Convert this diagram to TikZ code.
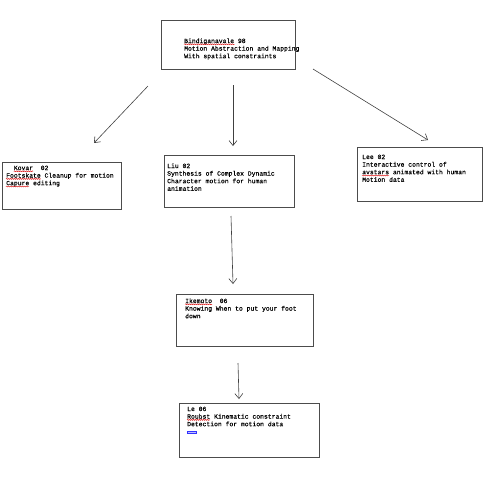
\documentclass[tikz,border=0pt]{standalone}
\usepackage{fontspec}
\newfontfamily\monofnt[FakeBold=0.35]{Liberation Mono}
\usetikzlibrary{arrows.meta,calc,decorations.pathmorphing}
\tikzset{
  box/.style={draw=black!70, line width=0.9pt, rectangle, inner sep=0pt, anchor=north west},
  txt/.style={anchor=base west, inner sep=0pt, align=left, font=\monofnt\fontsize{6.4pt}{7.6pt}\selectfont, text=black},
  arr/.style={draw=black!75, line width=0.6pt, -{Straight Barb[length=5pt,width=8pt]}},
  squig/.style={draw=red!85!black, line width=0.45pt, decorate, decoration={snake, amplitude=0.45pt, segment length=2pt}},
}
\begin{document}
\begin{tikzpicture}[x=1pt,y=-1pt]
\useasboundingbox (0,0) rectangle (503,480);
\def\cw{3.87}
% boxes
\node[box, minimum width=134pt, minimum height=49pt] (topb) at (161,20) {};
\node[box, minimum width=119pt, minimum height=47pt] (kovb) at (2,162) {};
\node[box, minimum width=130pt, minimum height=52pt] (liub) at (164,155) {};
\node[box, minimum width=125pt, minimum height=54pt] (leeb) at (357,147) {};
\node[box, minimum width=137pt, minimum height=52pt] (ikeb) at (176,294) {};
\node[box, minimum width=140pt, minimum height=54pt] (leb) at (179,403) {};
% texts (anchored at the baseline of their last line)
\node[txt] (topt) at (184,58.2) {Bindiganavale 98\\Motion Abstraction and Mapping\\With spatial constraints};
\node[txt] (kovt) at (6,185.2) {\ \ Kovar\ \ 02\\Footskate Cleanup for motion\\Capure editing};
\node[txt] (liut) at (167,190.8) {Liu 02\\Synthesis of Complex Dynamic\\Character motion for human\\animation};
\node[txt] (leet) at (362,181.8) {Lee 02\\Interactive control of\\avstars animated with human\\Motion data};
\node[txt] (iket) at (185,318.2) {Ikemoto\ \ 06\\Knowing When to put your foot\\down};
\node[txt] (let) at (187,426.2) {Le 06\\Roubst Kinematic constraint\\Detection for motion data};
% spell-check underlines
\draw[squig] ($(topt.base west)+(0,-13.9)$) -- ++(13*\cw,0);
\draw[squig] ($(kovt.base west)+(2*\cw,-13.9)$) -- ++(5*\cw,0);
\draw[squig] ($(kovt.base west)+(0,-6.3)$) -- ++(9*\cw,0);
\draw[squig] ($(kovt.base west)+(0,1.3)$) -- ++(6*\cw,0);
\draw[squig] ($(leet.base west)+(0,-6.3)$) -- ++(7*\cw,0);
\draw[squig] ($(iket.base west)+(0,-13.9)$) -- ++(7*\cw,0);
\draw[squig] ($(let.base west)+(0,-6.3)$) -- ++(6*\cw,0);
\draw[draw=blue!80, fill=blue!25, line width=0.5pt] ($(let.base west)+(0,5.2)$) rectangle ++(9,1.8);
% arrows
\coordinate (a1s) at (148,86);  \coordinate (a1e) at (94,143);
\coordinate (a2s) at (233,85);  \coordinate (a2e) at (233,146);
\coordinate (a3s) at (313,69);  \coordinate (a3e) at (428,140);
\coordinate (a4s) at (231,216); \coordinate (a4e) at (233,284);
\coordinate (a5s) at (238,363); \coordinate (a5e) at (239,399);
\draw[arr] (a1s) -- (a1e);
\draw[arr] (a2s) -- (a2e);
\draw[arr] (a3s) -- (a3e);
\draw[arr] (a4s) -- (a4e);
\draw[arr] (a5s) -- (a5e);
\end{tikzpicture}
\end{document}
